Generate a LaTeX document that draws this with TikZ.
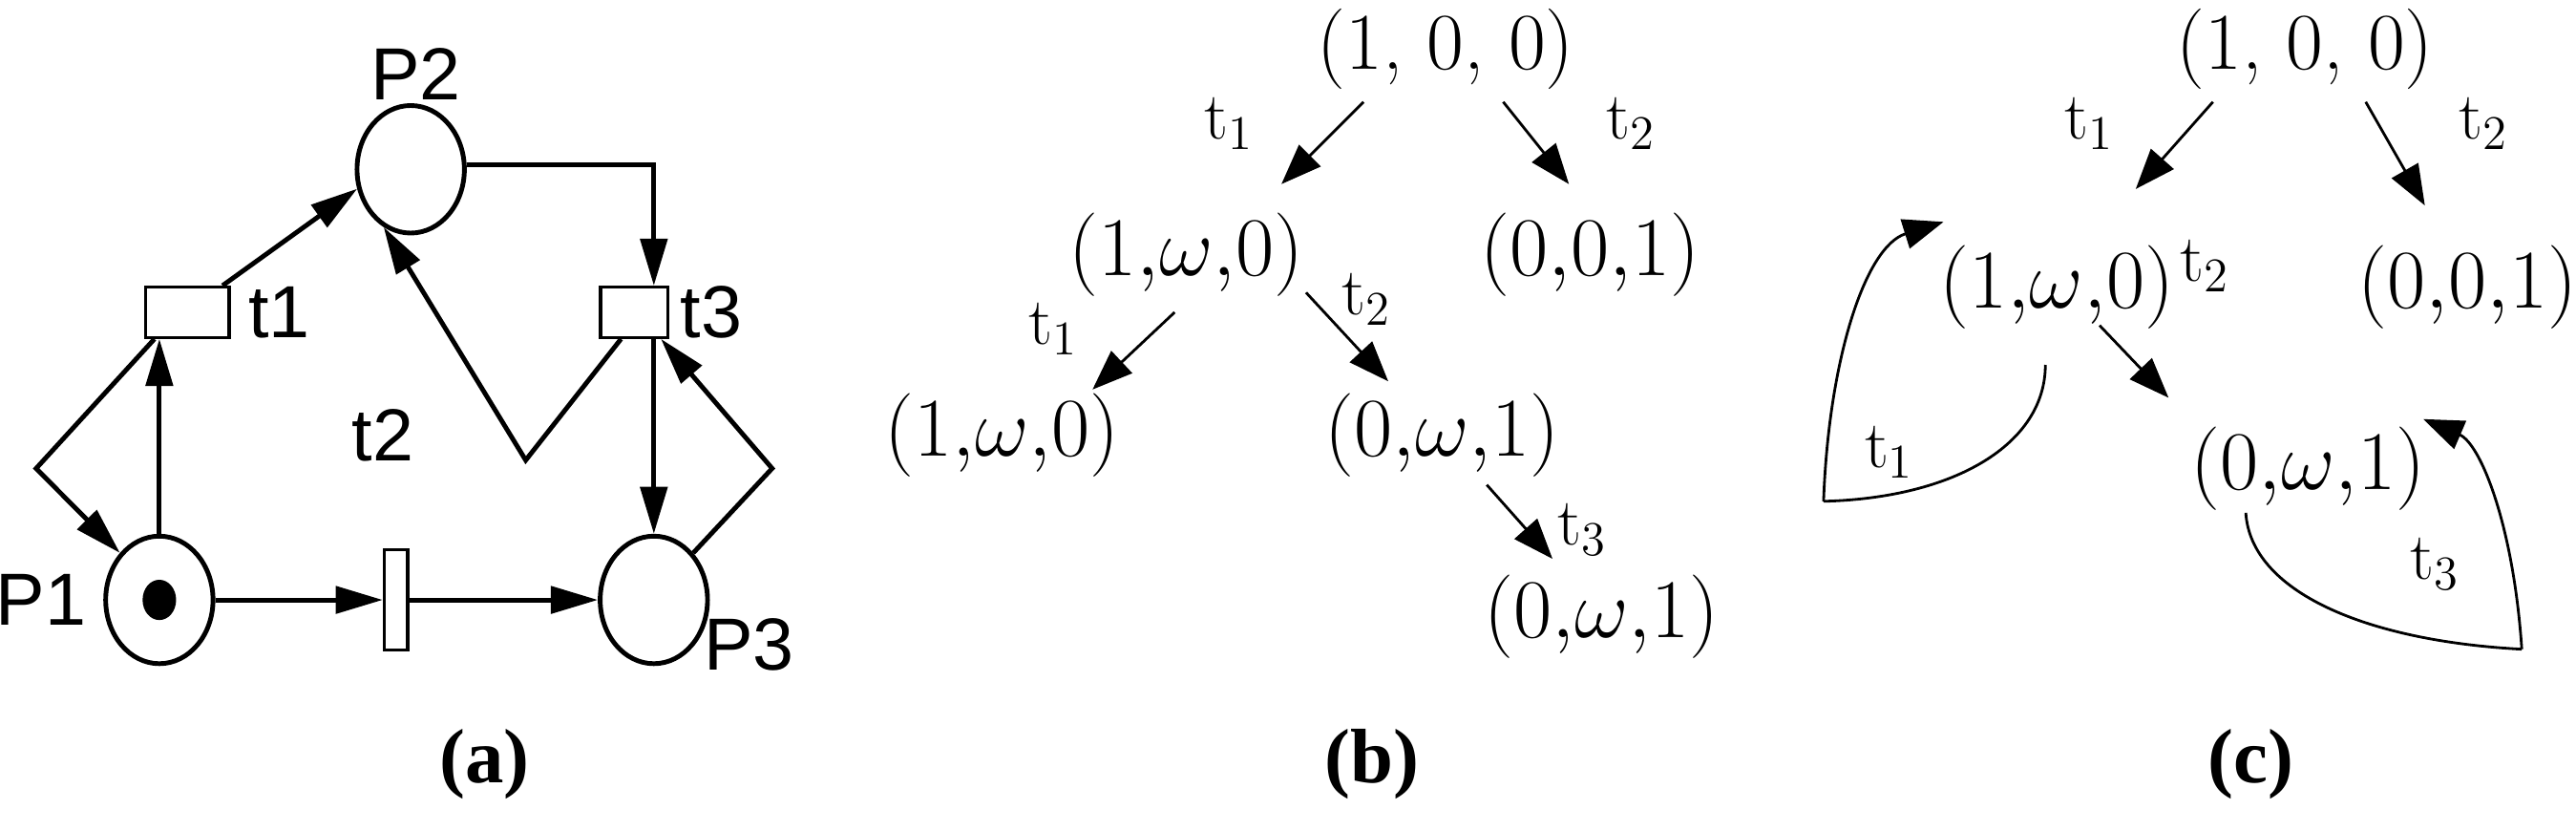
\documentclass[tikz,border=0pt]{standalone}
\usepackage{fontspec}
\newfontfamily\sansf{Liberation Sans}
\newfontfamily\serifb{Liberation Serif}
\usetikzlibrary{arrows.meta,shapes.geometric}
\begin{document}
\begin{tikzpicture}[x=0.017207cm,y=-0.017207cm,
 place/.style={draw,ellipse,line width=1.4pt,minimum width=32pt,minimum height=38pt,inner sep=0},
 trans/.style={draw,line width=0.9pt,inner sep=0},
 pa/.style={line width=1.4pt,-{Triangle[length=14pt,width=8pt]}},
 lab/.style={font=\sansf\fontsize{22}{24}\selectfont,inner sep=0},
 tup/.style={font=\fontsize{24}{26}\selectfont,inner sep=0},
 tl/.style={font=\fontsize{20}{22}\selectfont,inner sep=0},
 ta/.style={line width=0.8pt,-{Triangle[length=12pt,width=9pt]}},
 lp/.style={line width=0.8pt},
 pcap/.style={font=\serifb\bfseries\fontsize{23}{26}\selectfont,inner sep=0}]
\useasboundingbox (0,0) rectangle (1568,505.6);
% ---------- (a)
\node[place] (P2) at (250,103) {};
\node[place] (P1) at (97,365) {};
\fill (97,365) ellipse (5pt and 6pt);
\node[place] (P3) at (398,365) {};
\node[trans,minimum width=25pt,minimum height=15pt] (t1) at (114,190) {};
\node[trans,minimum width=20pt,minimum height=15pt] (t3) at (386,190) {};
\node[trans,minimum width=7pt,minimum height=30pt] (t2) at (241,365) {};
\node[lab] (lP2) at (253,45) {P2};
\node[lab] (lP1) at (25,365) {P1};
\node[lab] (lP3) at (456,392) {P3};
\node[lab] (lt1) at (170,190) {t1};
\node[lab] (lt3) at (433,190) {t3};
\node[lab] (lt2) at (233,265) {t2};
\coordinate (c1) at (398,100);
\coordinate (c2) at (22,285);
\coordinate (c3) at (320,280);
\coordinate (c4) at (470,285);
\draw[pa] (P2.east |- 0,100) -- (c1) -- (t3.north -| c1);
\draw[pa] (t1.north east) ++(-5,0) -- (P2.200);
\draw[pa] (P1.north) -- (t1.south -| P1.north);
\draw[pa] (t1.south) ++(-20,0) -- (c2) -- (P1.130);
\draw[pa] (t3.south) ++(-8,0) -- (c3) -- (P2.-115);
\draw[pa] (t3.south -| c1) -- (P3.north);
\draw[pa] (P3.50) -- (c4) -- ([xshift=8pt]t3.south);
\draw[pa] (P1.east) -- (t2.west);
\draw[pa] (t2.east) -- (P3.west);
\node[pcap] (ca) at (295,465) {(a)};
% ---------- (b)
\node[tup] (b0) at (880,30) {(1, 0, 0)};
\node[tup] (b1) at (722,155) {$(1{,}\omega{,}0)$};
\node[tup] (b2) at (968,155) {$(0{,}0{,}1)$};
\node[tup] (b3) at (610,265) {$(1{,}\omega{,}0)$};
\node[tup] (b4) at (878,265) {$(0{,}\omega{,}1)$};
\node[tup] (b5) at (975,375) {$(0{,}\omega{,}1)$};
\node[tl] (bl1) at (748,75) {t$_1$};
\node[tl] (bl2) at (993,75) {t$_2$};
\node[tl] (bl3) at (641,200) {t$_1$};
\node[tl] (bl4) at (832,182) {t$_2$};
\node[tl] (bl5) at (963,322) {t$_3$};
\draw[ta] (830,62) -- (780,112);
\draw[ta] (915,62) -- (955,112);
\draw[ta] (715,190) -- (665,237);
\draw[ta] (795,178) -- (845,232);
\draw[ta] (905,295) -- (945,340);
\node[pcap] (cb) at (835,465) {(b)};
% ---------- (c)
\node[tup] (c0) at (1403,30) {(1, 0, 0)};
\node[tup] (c1n) at (1252,175) {$(1{,}\omega{,}0)$};
\node[tup] (c2n) at (1502,175) {$(0{,}0{,}1)$};
\node[tup] (c3n) at (1405,285) {$(0{,}\omega{,}1)$};
\node[tl] (cl1) at (1272,75) {t$_1$};
\node[tl] (cl2) at (1512,75) {t$_2$};
\node[tl] (cl3) at (1342,162) {t$_2$};
\node[tl] (cl4) at (1150,275) {t$_1$};
\node[tl] (cl5) at (1482,343) {t$_3$};
\draw[ta] (1347,62) -- (1300,115);
\draw[ta] (1440,62) -- (1476,125);
\draw[ta] (1278,198) -- (1320,242);
\coordinate (lA) at (1245,222);
\coordinate (lB) at (1110,305);
\coordinate (lC) at (1183,135);
\draw[lp] (lA) .. controls (1245,270) and (1190,303) .. (lB);
\draw[ta] (lB) .. controls (1113,220) and (1135,150) .. (lC);
\coordinate (mA) at (1367,312);
\coordinate (mB) at (1535,395);
\coordinate (mC) at (1475,255);
\draw[lp] (mA) .. controls (1370,360) and (1440,390) .. (mB);
\draw[ta] (mB) .. controls (1530,320) and (1510,270) .. (mC);
\node[pcap] (cc) at (1370,465) {(c)};
\end{tikzpicture}
\end{document}
